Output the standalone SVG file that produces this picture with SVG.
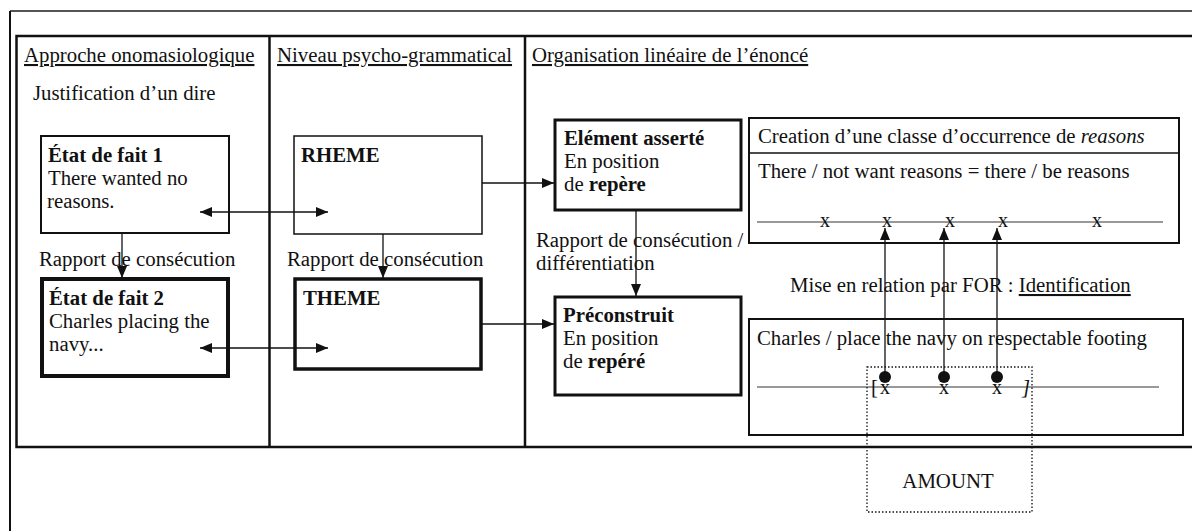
<svg xmlns="http://www.w3.org/2000/svg" width="1192" height="531" viewBox="0 0 1192 531">
<style>
text{font-family:"Liberation Serif","Times New Roman",serif;font-size:20.8px;fill:#111}
.b{font-weight:bold}
.u{text-decoration:underline}
.box{fill:#fff;stroke:#111}
.ln{stroke:#111;stroke-width:1.3;fill:none}
.xm{text-anchor:middle;font-size:20px}
</style>
<defs>
<marker id="ah" viewBox="0 0 12 10" refX="12" refY="5" markerWidth="12" markerHeight="10" markerUnits="userSpaceOnUse" orient="auto-start-reverse">
<path d="M0,0 L12,5 L0,10 z" fill="#111"/>
</marker>
</defs>
<rect width="1192" height="531" fill="#fff"/>
<g id="frame">
<line x1="10" y1="11" x2="1192" y2="11" stroke="#555" stroke-width="2"/>
<line x1="10" y1="11" x2="10" y2="531" stroke="#111" stroke-width="2"/>
<polyline points="1192,36 16.5,36 16.5,447 1192,447" fill="none" stroke="#111" stroke-width="2.5"/>
<line x1="269.5" y1="36" x2="269.5" y2="447" stroke="#111" stroke-width="2.5"/>
<line x1="525" y1="36" x2="525" y2="447" stroke="#111" stroke-width="2.5"/>
<text x="24" y="62" class="u">Approche onomasiologique</text>
<text x="277" y="62" class="u">Niveau psycho-grammatical</text>
<text x="532" y="62" class="u">Organisation linéaire de l’énoncé</text>
<text x="33" y="100">Justification d’un dire</text>
</g>
<g id="etat1">
<rect class="box" x="41" y="136" width="188" height="97" stroke-width="2"/>
<text x="48" y="162" class="b">État de fait 1</text>
<text x="48" y="185">There wanted no</text>
<text x="47" y="208">reasons.</text>
</g>
<g id="etat2">
<rect class="box" x="42" y="279" width="186" height="97" stroke-width="4"/>
<text x="49" y="305" class="b">État de fait 2</text>
<text x="49" y="328">Charles placing the</text>
<text x="49" y="351">navy...</text>
</g>
<g id="rheme">
<rect class="box" x="294" y="136" width="188" height="98" stroke-width="1.5"/>
<text x="301" y="162" class="b">RHEME</text>
</g>
<g id="theme">
<rect class="box" x="295" y="279" width="186" height="90" stroke-width="3.5"/>
<text x="303" y="305" class="b">THEME</text>
</g>
<g id="element">
<rect class="box" x="555" y="120" width="186" height="90" stroke-width="3"/>
<text x="564" y="145" class="b">Elément asserté</text>
<text x="564" y="168">En position</text>
<text x="564" y="191">de <tspan class="b">repère</tspan></text>
</g>
<g id="preconstruit">
<rect class="box" x="555" y="297" width="186" height="98" stroke-width="3"/>
<text x="563" y="322" class="b">Préconstruit</text>
<text x="563" y="345">En position</text>
<text x="563" y="368">de <tspan class="b">repéré</tspan></text>
</g>
<g id="creation">
<rect class="box" x="749" y="118" width="430" height="125" stroke-width="2"/>
<line x1="749" y1="153" x2="1179" y2="153" stroke="#111" stroke-width="1.5"/>
<text x="758" y="143">Creation d’une classe d’occurrence de <tspan font-style="italic">reasons</tspan></text>
<text x="758" y="178">There / not want reasons = there / be reasons</text>
<line x1="757" y1="222" x2="1163" y2="222" stroke="#333" stroke-width="1"/>
<text x="825" y="227" class="xm">x</text>
<text x="887" y="227" class="xm">x</text>
<text x="950" y="227" class="xm">x</text>
<text x="1003" y="227" class="xm">x</text>
<text x="1097" y="227" class="xm">x</text>
</g>
<g id="charles">
<rect class="box" x="749" y="319" width="434" height="116" stroke-width="2"/>
<text x="757" y="345">Charles / place the navy on respectable footing</text>
<line x1="757" y1="387" x2="1159" y2="387" stroke="#333" stroke-width="1"/>
<text x="871" y="394">[</text>
<text x="885" y="394" class="xm">x</text>
<text x="944" y="394" class="xm">x</text>
<text x="997" y="394" class="xm">x</text>
<text x="1022" y="394" font-style="italic">]</text>
</g>
<g id="amount">
<rect x="867" y="367" width="165" height="145" fill="none" stroke="#111" stroke-width="1.3" stroke-dasharray="1.5,2"/>
<text x="948" y="488" text-anchor="middle">AMOUNT</text>
</g>
<text x="790" y="292">Mise en relation par FOR : <tspan class="u">Identification</tspan></text>
<g id="connectors">
<line class="ln" x1="122" y1="233" x2="122" y2="278" marker-end="url(#ah)"/>
<line class="ln" x1="383" y1="234" x2="383" y2="278" marker-end="url(#ah)"/>
<line class="ln" x1="200" y1="212" x2="328" y2="212" marker-start="url(#ah)" marker-end="url(#ah)"/>
<line class="ln" x1="200" y1="348" x2="328" y2="348" marker-start="url(#ah)" marker-end="url(#ah)"/>
<line class="ln" x1="482" y1="183" x2="554" y2="183" marker-end="url(#ah)"/>
<line class="ln" x1="482" y1="324" x2="554" y2="324" marker-end="url(#ah)"/>
<line class="ln" x1="636" y1="210" x2="636" y2="296" marker-end="url(#ah)"/>
<line class="ln" x1="885" y1="377" x2="885" y2="228" marker-end="url(#ah)"/>
<line class="ln" x1="944" y1="377" x2="944" y2="228" marker-end="url(#ah)"/>
<line class="ln" x1="997" y1="377" x2="997" y2="228" marker-end="url(#ah)"/>
<circle cx="885" cy="377" r="6" fill="#111"/>
<circle cx="944" cy="377" r="6" fill="#111"/>
<circle cx="997" cy="377" r="6" fill="#111"/>
</g>
<g id="labels">
<text x="39" y="266">Rapport de consécution</text>
<text x="287" y="266">Rapport de consécution</text>
<text x="536" y="247">Rapport de consécution /</text>
<text x="536" y="270">différentiation</text>
</g>
</svg>
